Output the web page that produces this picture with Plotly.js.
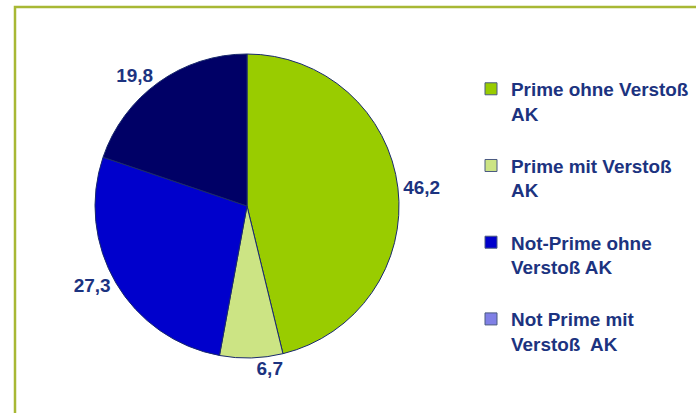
<!DOCTYPE html>
<html>
<head>
<meta charset="utf-8">
<script src="https://cdn.plot.ly/plotly-3.0.1.min.js"></script>
<style>html,body{margin:0;padding:0;background:#fff;}#chart{width:696px;height:413px;}</style>
</head>
<body>
<div id="chart"></div>
<script>
// Legend categories (as in the reference legend)
const categories = [
  'Prime ohne Verstoß<br>AK',
  'Prime mit Verstoß<br>AK',
  'Not-Prime ohne<br>Verstoß AK',
  'Not Prime mit<br>Verstoß  AK'
];
const legendColors = ['#99cc00', '#cce484', '#0000cc', '#8080e6'];

// Pie slices (clockwise from 12 o'clock)
const values = [46.2, 6.7, 27.3, 19.8];
const sliceColors = ['#99cc00', '#cce484', '#0000cc', '#000066'];

const textColor = '#1c3380';
const fontFam = 'Liberation Sans, Arial, sans-serif';

const pieDomain = {x: [94/696, 400/696], y: [55/413, 359/413]};
const cx = (pieDomain.x[0] + pieDomain.x[1]) / 2;
const cy = (pieDomain.y[0] + pieDomain.y[1]) / 2;

// Legend carrier: tiny pie hidden under the main pie
const legendTrace = {
  type: 'pie',
  labels: categories.map(l => l + '<br>&nbsp;'),
  values: categories.map(() => 1),
  sort: false,
  marker: {colors: legendColors, line: {color: '#4a5a80', width: 1}},
  textinfo: 'none',
  hoverinfo: 'skip',
  domain: {x: [cx - 0.0005, cx + 0.0005], y: [cy - 0.0005, cy + 0.0005]}
};

const mainTrace = {
  type: 'pie',
  labels: categories.map(l => l + '<br>&nbsp;'),
  values: values,
  sort: false,
  direction: 'clockwise',
  rotation: 0,
  showlegend: false,
  marker: {colors: sliceColors, line: {color: '#1a2a6c', width: 1}},
  texttemplate: '<b>%{value:.1f}</b>',
  textposition: 'outside',
  outsidetextfont: {family: fontFam, size: 19, color: textColor},
  domain: pieDomain,
  hoverinfo: 'label+value'
};

const layout = {
  width: 696, height: 413,
  margin: {l: 0, r: 0, t: 0, b: 0},
  paper_bgcolor: '#ffffff',
  separators: ',.',
  showlegend: true,
  legend: {
    x: 471/696, y: 1 - 70/413, xanchor: 'left', yanchor: 'top',
    valign: 'top',
    traceorder: 'normal',
    font: {family: fontFam, size: 18.9, color: textColor, weight: 'bold'},
    bgcolor: 'rgba(0,0,0,0)'
  },
  shapes: [{
    type: 'rect', xref: 'paper', yref: 'paper',
    x0: 15/696, x1: 1.05, y0: -0.05, y1: 1 - 7/413,
    line: {color: '#a8b834', width: 2.5}
  }]
};
Plotly.newPlot('chart', [legendTrace, mainTrace], layout, {displayModeBar: false, staticPlot: true});
</script>
</body>
</html>
